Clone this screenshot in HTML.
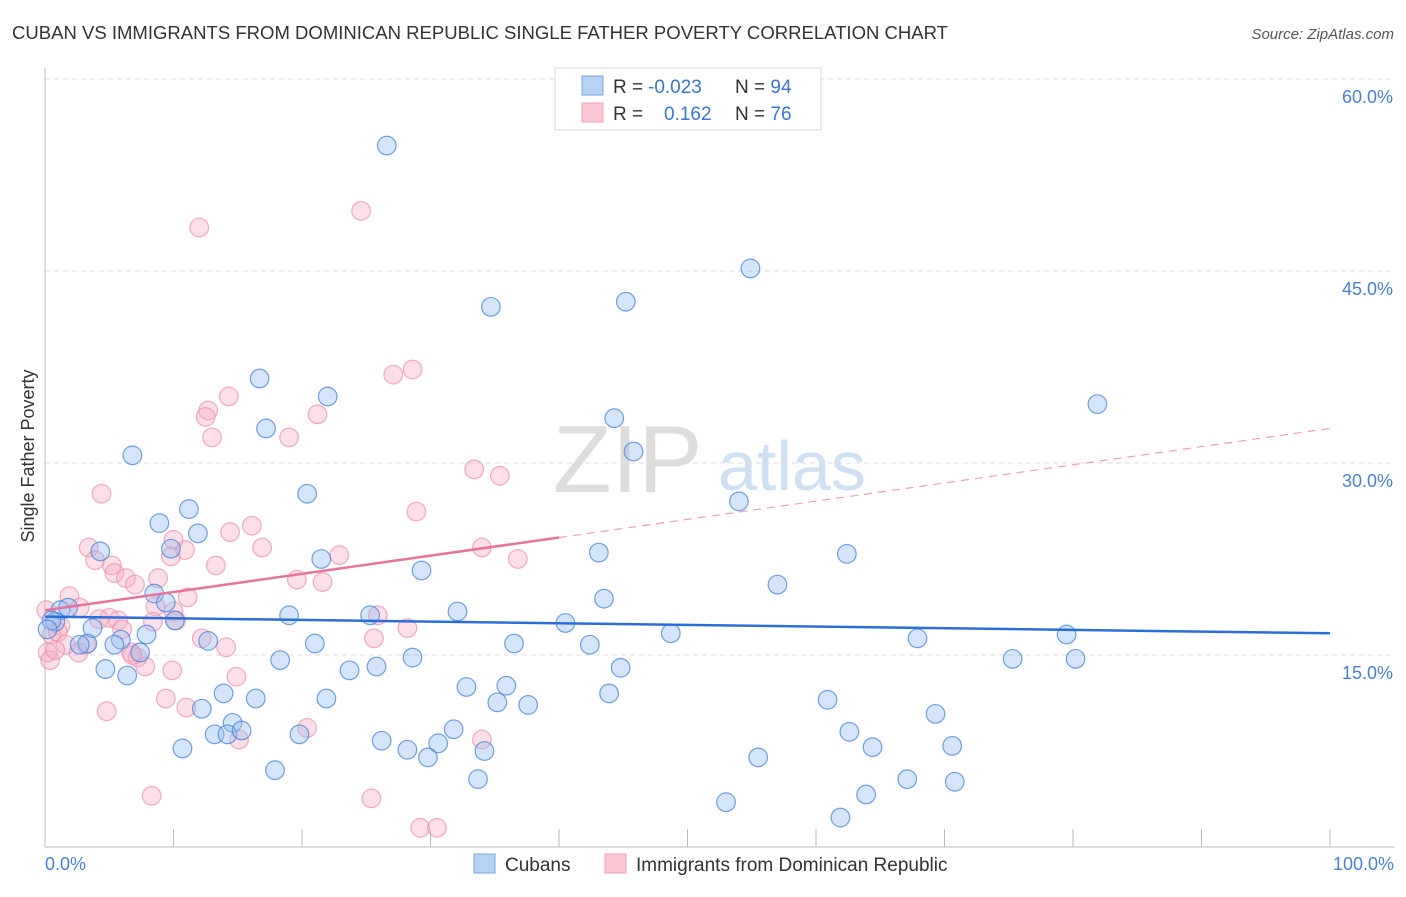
<!DOCTYPE html>
<html><head><meta charset="utf-8"><style>
body{margin:0;background:#fff;}
svg text{font-family:"Liberation Sans",sans-serif;}
</style></head><body>
<svg id="chart" width="1406" height="892" xmlns="http://www.w3.org/2000/svg">
<text x="12" y="39" font-size="18" fill="#333" textLength="936" lengthAdjust="spacingAndGlyphs">CUBAN VS IMMIGRANTS FROM DOMINICAN REPUBLIC SINGLE FATHER POVERTY CORRELATION CHART</text>
<text x="1394" y="39" font-size="15" fill="#555" font-style="italic" text-anchor="end">Source: ZipAtlas.com</text>
<g>
<text x="553" y="492" font-size="96" fill="#ddd" font-family="Liberation Serif">ZIP</text>
<text x="718" y="490" font-size="70" fill="#cfe0f3">atlas</text>
</g>
<g id="grid"></g>
<line x1="45" y1="68" x2="45" y2="847" stroke="#bbb"/>
<line x1="45" y1="847" x2="1395" y2="847" stroke="#bbb"/>
<g id="xticks"></g>
<g id="pts"></g>
<g id="lines"></g>
<text x="34" y="456" font-size="18" fill="#333" text-anchor="middle" transform="rotate(-90 34 456)">Single Father Poverty</text>
<text x="45" y="870" font-size="18" fill="#4a7fd6">0.0%</text>
<text x="1394" y="870" font-size="18" fill="#4a7fd6" text-anchor="end">100.0%</text>
<g>
<rect x="555" y="68" width="266" height="62" fill="#fff" stroke="#ddd"/>
<rect x="582" y="76" width="21" height="19" fill="#b8d2f4" stroke="#7aa6e3"/>
<rect x="582" y="103" width="21" height="19" fill="#fcc6d5" stroke="#f2a0b9"/>
<text x="613" y="93" font-size="19" fill="#333">R = <tspan fill="#3a74d4" x="648">-0.023</tspan><tspan x="735">N = </tspan><tspan fill="#3a74d4">94</tspan></text>
<text x="613" y="120" font-size="19" fill="#333">R = <tspan fill="#3a74d4" x="664">0.162</tspan><tspan x="735">N = </tspan><tspan fill="#3a74d4">76</tspan></text>
</g>
<g>
<rect x="474" y="854" width="21" height="19" fill="#b8d2f4" stroke="#7aa6e3"/>
<text x="505" y="871" font-size="19" fill="#333">Cubans</text>
<rect x="605" y="854" width="21" height="19" fill="#fcc6d5" stroke="#f2a0b9"/>
<text x="636" y="871" font-size="19" fill="#333">Immigrants from Dominican Republic</text>
</g>
</svg>
<script>
const yTicks=[15,30,45,60];
const yTickLabels=["15.0%","30.0%","45.0%","60.0%"];
const xTicks=[10,20,30,40,50,60,70,80,90,100];
const cubanX=[26.6,54.9,34.7,45.2,81.9,16.7,22.0,44.3,45.8,6.8,17.2,20.4,54.0,11.2,8.9,11.9,9.8,4.3,43.1,21.5,62.4,29.3,57.0,43.5,8.5,9.4,32.1,19.0,25.3,40.5,10.1,1.2,1.8,0.8,3.7,7.9,48.7,67.9,79.5,5.9,3.3,2.7,5.4,7.4,12.7,21.0,36.5,42.4,28.6,18.3,44.8,75.3,80.2,23.7,25.8,4.7,6.4,32.8,35.9,43.9,13.9,16.4,21.9,35.2,37.6,60.9,12.2,69.3,14.6,13.2,14.2,15.3,19.8,31.8,62.6,26.2,30.6,10.7,28.2,34.2,64.4,70.6,29.8,55.5,17.9,33.7,67.1,70.8,63.9,53.0,61.9,0.5,0.2,58.8];
const cubanY=[54.8,45.2,42.2,42.6,34.6,36.6,35.2,33.5,30.9,30.6,32.7,27.6,27.0,26.4,25.3,24.5,23.3,23.1,23.0,22.5,22.9,21.6,20.5,19.4,19.8,19.1,18.4,18.1,18.1,17.5,17.7,18.5,18.7,17.6,17.1,16.6,16.7,16.3,16.6,16.2,15.9,15.8,15.8,15.2,16.1,15.9,15.9,15.8,14.8,14.6,14.0,14.7,14.7,13.8,14.1,13.9,13.4,12.5,12.6,12.0,12.0,11.6,11.6,11.3,11.1,11.5,10.8,10.4,9.7,8.8,8.8,9.1,8.8,9.2,9.0,8.3,8.1,7.7,7.6,7.5,7.8,7.9,7.0,7.0,6.0,5.3,5.3,5.1,4.1,3.5,2.3,17.7,17.0,59.4];
const domX=[24.6,12.0,28.6,27.1,14.3,12.7,12.5,21.2,13.0,19.0,33.4,35.4,4.4,28.9,16.1,14.4,3.4,34.0,16.9,22.9,3.9,36.8,9.8,5.2,13.3,5.4,6.3,8.8,19.6,21.6,7.0,1.9,11.1,2.7,8.6,0.1,5.0,5.7,10.0,4.2,25.9,10.2,1.2,28.2,6.0,0.5,1.0,12.2,14.1,25.6,3.2,6.7,2.6,7.2,0.2,7.8,9.9,14.9,1.6,6.8,9.4,11.0,4.8,20.4,15.1,34.0,8.3,25.4,29.2,30.5,0.4,0.8,10.9,10.0,8.4];
const domY=[49.7,48.4,37.3,36.9,35.2,34.1,33.6,33.8,32.0,32.0,29.5,29.0,27.6,26.2,25.1,24.6,23.4,23.4,23.4,22.8,22.4,22.5,22.7,22.0,22.0,21.4,21.0,21.0,20.9,20.7,20.5,19.6,19.5,18.7,18.8,18.5,17.9,17.7,18.4,17.8,18.1,17.7,17.3,17.1,17.0,16.6,16.8,16.3,15.6,16.3,15.8,15.2,15.2,14.8,15.2,14.1,13.8,13.3,15.8,15.0,11.6,10.9,10.6,9.3,8.4,8.4,4.0,3.8,1.5,1.5,14.6,15.4,23.2,24.0,17.6];
const cubanTrend=[18.0,16.7];
const domTrend=[18.5,32.7];
const domSolidEnd=40;

const NS="http://www.w3.org/2000/svg";
const X0=45,X1=1330,Y0=847,PPY=12.8;
function sx(v){return X0+(X1-X0)*v/100;}
function sy(v){return Y0-v*PPY;}
function mk(t,a,parent){const e=document.createElementNS(NS,t);for(const k in a)e.setAttribute(k,a[k]);parent.appendChild(e);return e;}
const grid=document.getElementById('grid');
yTicks.forEach((t,i)=>{
  const l=mk('line',{x1:45,x2:1395,y1:sy(t),y2:sy(t),stroke:'#ddd','stroke-dasharray':'5,4'},grid);
  
  
  const tx=mk('text',{x:1393,y:sy(t)+24,'font-size':18,fill:'#4a7fd6','text-anchor':'end'},grid);
  tx.textContent=yTickLabels[i];
  
  
});
const xt=document.getElementById('xticks');
xTicks.forEach(t=>{
  const l=mk('line',{x1:sx(t),x2:sx(t),y1:829,y2:847,stroke:'#bbb'},xt);
  
  
});
const pts=document.getElementById('pts');
function plot(xs,ys,fill,stroke,name){
  xs.forEach((x,i)=>{
    const c=mk('circle',{cx:sx(x),cy:sy(ys[i]),r:9.3,fill:fill,stroke:stroke,'stroke-width':1.2},pts);
    
    
  });
}
plot(domX,domY,'rgba(248,176,198,0.4)','rgba(236,140,170,0.7)','dominican-point');
plot(cubanX,cubanY,'rgba(150,190,240,0.4)','rgba(70,130,215,0.75)','cuban-point');
const ln=document.getElementById('lines');
let l=mk('line',{x1:sx(0),y1:sy(cubanTrend[0]),x2:sx(100),y2:sy(cubanTrend[1]),stroke:'#2a6fd6','stroke-width':2.5},ln);


const dAt=v=>domTrend[0]+(domTrend[1]-domTrend[0])*v/100;
l=mk('line',{x1:sx(0),y1:sy(dAt(0)),x2:sx(domSolidEnd),y2:sy(dAt(domSolidEnd)),stroke:'#e8729a','stroke-width':2.5},ln);


l=mk('line',{x1:sx(domSolidEnd),y1:sy(dAt(domSolidEnd)),x2:sx(100),y2:sy(dAt(100)),stroke:'#eba0b8','stroke-width':1.2,'stroke-dasharray':'8,6'},ln);


</script>
</body></html>
